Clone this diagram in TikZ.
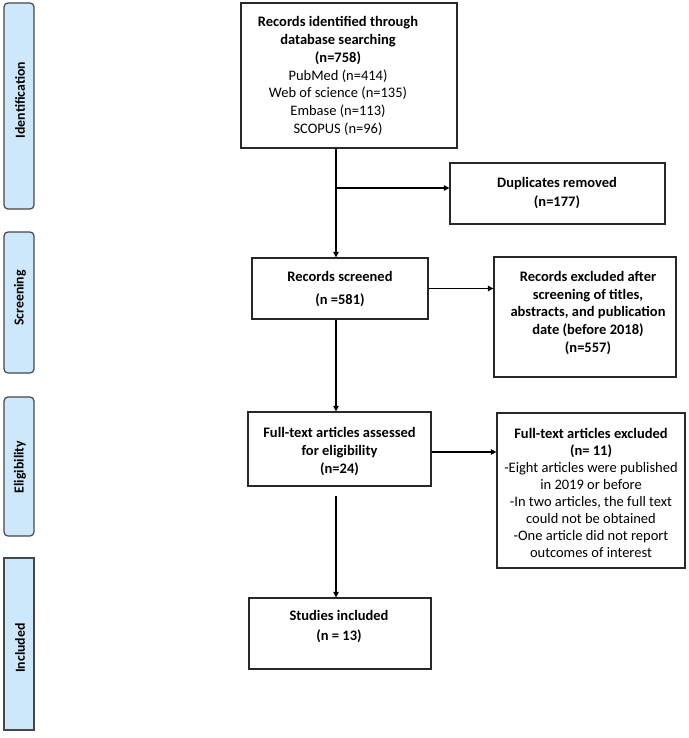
\documentclass[tikz,border=0pt]{standalone}
\usepackage{fontspec}
\setmainfont{Carlito}
\usetikzlibrary{arrows.meta}
\definecolor{sidefill}{RGB}{205,232,250}
\definecolor{sideline}{RGB}{70,70,70}
\definecolor{boxline}{RGB}{40,40,40}
\tikzset{
  box/.style={draw=boxline, line width=1.3pt, inner sep=0pt},
  side/.style={draw=sideline, fill=sidefill, line width=1.2pt, rounded corners=4pt, inner sep=0pt},
  sidetxt/.style={rotate=90, font=\fontsize{13.8}{17}\selectfont\bfseries},
  txt/.style={align=center, inner sep=0pt, font=\fontsize{14.5}{17.7}\selectfont},
  arr/.style={line width=1.1pt, -{Triangle[length=5.5pt,width=5.5pt]}},
  ln/.style={line width=1.1pt}
}
\begin{document}
\begin{tikzpicture}[x=1pt,y=-1pt]
\useasboundingbox (0,0) rectangle (688,738);
% side boxes
\node[side, minimum width=30pt, minimum height=206pt] (sId) at (19,106) {};
\node[sidetxt] (sIdT) at (20,100) {Identification};
\node[side, minimum width=30pt, minimum height=141pt] (sSc) at (19,302.5) {};
\node[sidetxt] (sScT) at (20,298) {Screening};
\node[side, minimum width=30pt, minimum height=139pt] (sEl) at (19,466.5) {};
\node[sidetxt] (sElT) at (20,467) {Eligibility};
\node[side, rounded corners=0pt, minimum width=30pt, minimum height=172pt] (sIn) at (19,644) {};
\node[sidetxt] (sInT) at (20,648) {Included};
% main boxes
\node[box, minimum width=216pt, minimum height=145pt] (id) at (349,75.5) {};
\node[txt] (idT) at (338,76) {\textbf{Records identified through}\\\textbf{database searching}\\\textbf{(n=758)}\\PubMed (n=414)\\Web of science (n=135)\\Embase (n=113)\\SCOPUS (n=96)};
\node[box, minimum width=215pt, minimum height=61pt] (dup) at (557.5,193.5) {};
\node[txt, font=\fontsize{14.5}{19}\selectfont\bfseries] (dupT) at (557,193) {Duplicates removed\\(n=177)};
\node[box, minimum width=176pt, minimum height=61pt] (scr) at (340,288.5) {};
\node[txt, font=\fontsize{14.5}{23}\selectfont\bfseries] (scrT) at (340,289) {Records screened\\(n =581)};
\node[box, minimum width=182pt, minimum height=120pt] (ex1) at (585,317) {};
\node[txt, font=\fontsize{14.5}{17.7}\selectfont\bfseries] (ex1T) at (588,313) {Records excluded after\\screening of titles,\\abstracts, and publication\\date (before 2018)\\(n=557)};
\node[box, minimum width=183pt, minimum height=74pt] (ass) at (339.5,449) {};
\node[txt, font=\fontsize{14.5}{18}\selectfont\bfseries] (assT) at (339.5,451) {Full-text articles assessed\\for eligibility\\(n=24)};
\node[box, minimum width=188pt, minimum height=155pt] (ex2) at (591,490.5) {};
\node[txt, font=\fontsize{14.5}{17}\selectfont] (ex2T) at (591,492.5) {\textbf{Full-text articles excluded}\\\textbf{(n= 11)}\\-Eight articles were published\\in 2019 or before\\-In two articles, the full text\\could not be obtained\\-One article did not report\\outcomes of interest};
\node[box, minimum width=182pt, minimum height=71pt] (inc) at (340,633.5) {};
\node[txt, font=\fontsize{14.5}{20}\selectfont\bfseries] (incT) at (339,627) {Studies included\\(n = 13)};
% connectors
\coordinate (j) at (336,0);
\coordinate (b1) at (336,188);
\draw[arr] (id.south -| j) -- (scr.north -| j);
\draw[arr] (b1) -- (b1 -| dup.west);
\draw[arr] (scr.east) -- (scr.east -| ex1.west);
\draw[arr] (scr.south -| j) -- (ass.north -| j);
\draw[arr] ([yshift=-3pt]ass.east) -- ([yshift=-3pt]ass.east -| ex2.west);
\draw[arr] ([yshift=-9pt]ass.south -| j) -- (inc.north -| j);
\end{tikzpicture}
\end{document}
